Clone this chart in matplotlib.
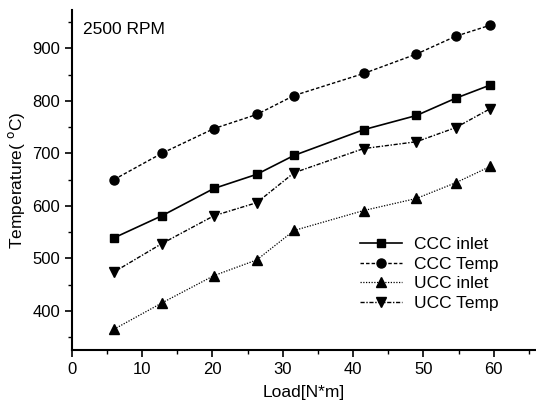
import numpy as np
import matplotlib
matplotlib.use("Agg")
import matplotlib.pyplot as plt
from matplotlib.ticker import MultipleLocator

plt.rcParams['font.family'] = ['Liberation Sans', 'DejaVu Sans']

# load points (N*m)
load = [6, 12.8, 20.2, 26.3, 31.6, 41.5, 49.0, 54.6, 59.5]

ccc_inlet = [539, 581, 633, 660, 696, 745, 772, 805, 830]
ccc_temp = [650, 700, 747, 774, 810, 852, 889, 923, 944]
ucc_inlet = [365, 415, 467, 497, 553, 591, 614, 644, 675]
ucc_temp = [474, 528, 581, 606, 663, 709, 722, 749, 785]

fig = plt.figure(figsize=(5.36, 4.03), dpi=100)
ax = fig.add_axes([0.134, 0.131, 0.866, 0.843])

ax.plot(load, ccc_inlet, 'k-', marker='s', ms=6, lw=1.2, label="CCC inlet")
ax.plot(load, ccc_temp, 'k', ls=(0, (2.5, 1.5)), marker='o', ms=6.5, lw=1.0, label="CCC Temp")
ax.plot(load, ucc_inlet, 'k', ls=(0, (1, 1.2)), marker='^', ms=7, lw=0.9, label="UCC inlet")
ax.plot(load, ucc_temp, 'k', ls=(0, (3, 1.2, 1, 1.2)), marker='v', ms=7, lw=1.0, label="UCC Temp")

ax.set_xlim(0, 66)
ax.set_ylim(325, 972)
ax.xaxis.set_major_locator(MultipleLocator(10))
ax.xaxis.set_minor_locator(MultipleLocator(5))
ax.yaxis.set_major_locator(MultipleLocator(100))
ax.yaxis.set_minor_locator(MultipleLocator(50))
ax.set_yticks([400, 500, 600, 700, 800, 900])

ax.spines['top'].set_visible(False)
ax.spines['right'].set_visible(False)
ax.spines['left'].set_linewidth(1.5)
ax.spines['bottom'].set_linewidth(1.5)
ax.tick_params(which='major', direction='out', length=5, width=1.2, labelsize=12)
ax.tick_params(which='minor', direction='out', length=3, width=1.0)

ax.set_xlabel("Load[N*m]", fontsize=12.5, labelpad=6)
ax.set_ylabel("Temperature( $^{\\rm o}$C)", fontsize=12.5)

ax.text(0.025, 0.965, "2500 RPM", transform=ax.transAxes, fontsize=12.5, va='top', ha='left')

ax.legend(loc='center right', bbox_to_anchor=(0.935, 0.225), frameon=False, fontsize=12.5,
          handlelength=2.4, handletextpad=0.7, labelspacing=0.25, borderaxespad=0)

fig.savefig("out.png", dpi=100)
